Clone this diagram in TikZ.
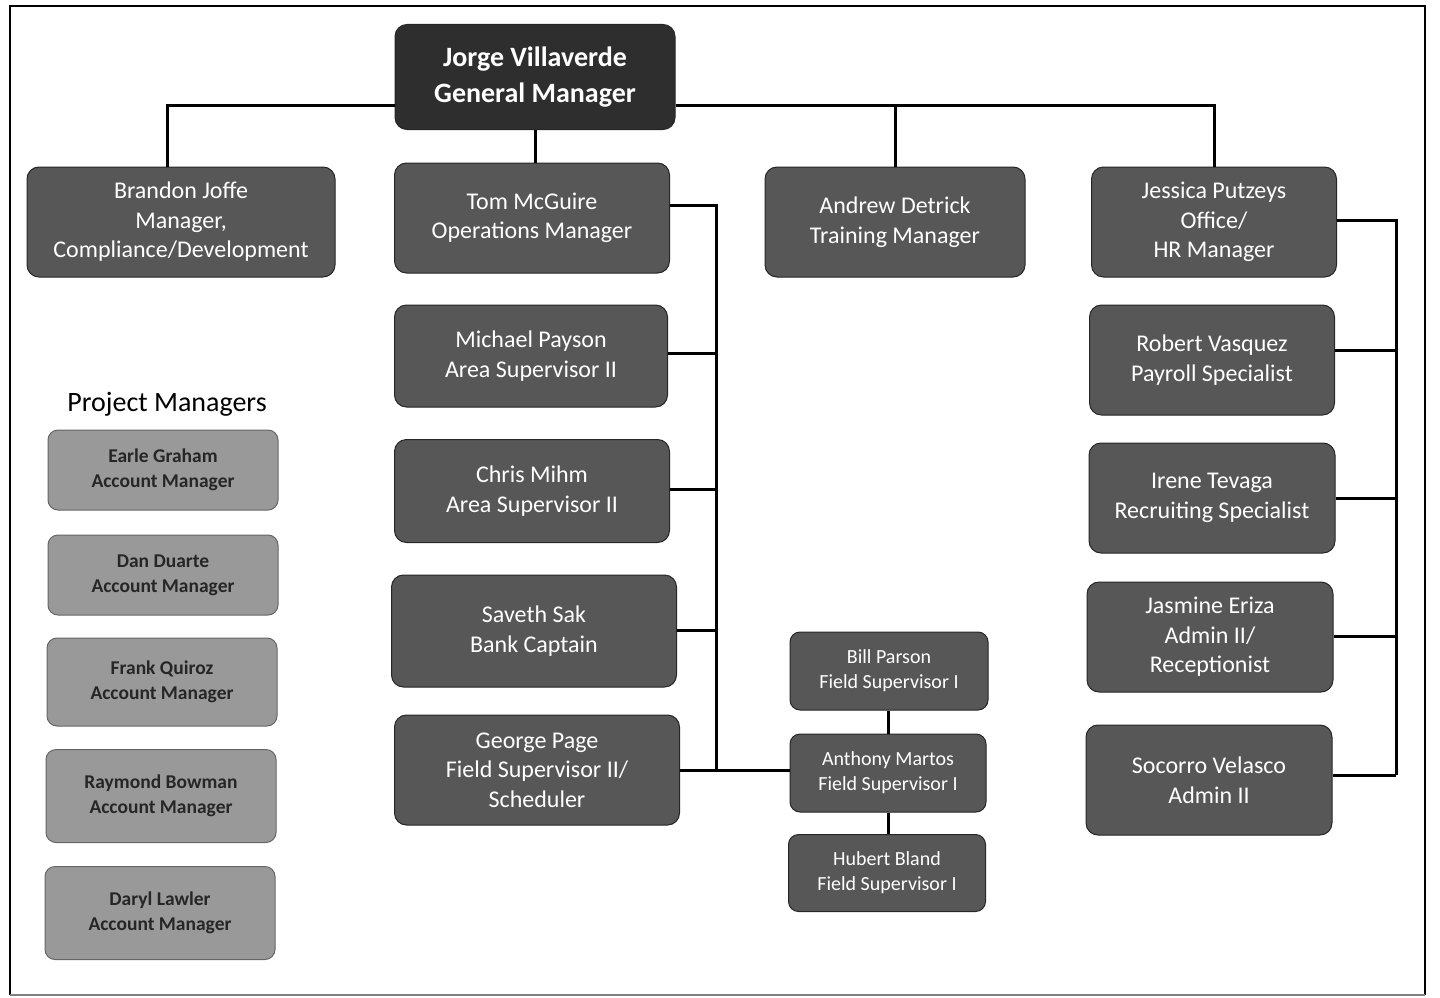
\documentclass[tikz,border=0pt]{standalone}
\usepackage{fontspec}
\setmainfont{Carlito}
\begin{document}
\begin{tikzpicture}[x=1pt,y=-1pt,
  box/.style={draw=black!85, line width=1pt, fill=black!66, rounded corners=12pt, text=white, align=center, inner sep=0pt},
  big/.style={box, font=\fontsize{24}{29.5}\selectfont},
  small/.style={box, font=\fontsize{20}{25}\selectfont, rounded corners=10pt},
  pm/.style={draw=black!60, line width=1pt, fill=black!40, rounded corners=10pt, text=black!85, align=center, inner sep=0pt, font=\bfseries\fontsize{19.5}{25}\selectfont},
  wire/.style={line width=3pt, black}]
\useasboundingbox (0,0) rectangle (1440,998);
\draw[line width=2.5pt] (10,995) -- (10,6) -- (1425,6) -- (1425,995);
\draw[line width=1.5pt, black!50] (10,995) -- (1425,995);

% top
\node[box, font=\bfseries\fontsize{28}{36}\selectfont, fill=black!82, minimum width=280pt, minimum height=105pt] (gm) at (535,77) {Jorge Villaverde\\General Manager};

\node[big, minimum width=308pt, minimum height=110pt] (bj) at (181,222) {Brandon Joffe\\Manager,\\Compliance/Development};
\node[big, minimum width=275pt, minimum height=110pt] (tm) at (532,218) {Tom McGuire\\Operations Manager};
\node[big, minimum width=260pt, minimum height=110pt] (ad) at (895,222) {Andrew Detrick\\Training Manager};
\node[big, minimum width=245pt, minimum height=110pt] (jp) at (1214,222) {Jessica Putzeys\\Office/\\HR Manager};

% operations column
\node[big, minimum width=273pt, minimum height=102pt] (mp) at (531,356) {Michael Payson\\Area Supervisor II};
\node[big, minimum width=275pt, minimum height=103pt] (cm) at (532,491) {Chris Mihm\\Area Supervisor II};
\node[big, minimum width=285pt, minimum height=112pt] (ss) at (534,631) {Saveth Sak\\Bank Captain};
\node[big, minimum width=285pt, minimum height=110pt] (gp) at (537,770) {George Page\\Field Supervisor II/\\Scheduler};

% field supervisors
\node[small, minimum width=198pt, minimum height=78pt] (bp) at (889,671) {Bill Parson\\Field Supervisor I};
\node[small, minimum width=196pt, minimum height=78pt] (am) at (888,773) {Anthony Martos\\Field Supervisor I};
\node[small, minimum width=197pt, minimum height=77pt] (hb) at (887,873) {Hubert Bland\\Field Supervisor I};

% HR column
\node[big, minimum width=245pt, minimum height=110pt] (rv) at (1212,360) {Robert Vasquez\\Payroll Specialist};
\node[big, minimum width=246pt, minimum height=110pt] (it) at (1212,498) {Irene Tevaga\\Recruiting Specialist};
\node[big, minimum width=246pt, minimum height=110pt] (je) at (1210,637) {Jasmine Eriza\\Admin II/\\Receptionist};
\node[big, minimum width=246pt, minimum height=110pt] (sv) at (1209,780) {Socorro Velasco\\Admin II};

% project managers
\node[font=\fontsize{28}{32}\selectfont] (pmt) at (167,404) {Project Managers};
\node[pm, minimum width=230pt, minimum height=80pt] (eg) at (163,470) {Earle Graham\\Account Manager};
\node[pm, minimum width=230pt, minimum height=80pt] (dd) at (163,575) {Dan Duarte\\Account Manager};
\node[pm, minimum width=230pt, minimum height=88pt] (fq) at (162,682) {Frank Quiroz\\Account Manager};
\node[pm, minimum width=230pt, minimum height=93pt] (rb) at (161,796) {Raymond Bowman\\Account Manager};
\node[pm, minimum width=230pt, minimum height=93pt] (dl) at (160,913) {Daryl Lawler\\Account Manager};

% connectors from GM
\coordinate (gl) at (167,105);
\coordinate (gr) at (1214,105);
\draw[wire] (gm.west |- gl) -- (gl) -- (gl |- bj.north);
\draw[wire] (gm.east |- gl) -- (gr) -- (jp.north);
\draw[wire] (ad.north) -- (ad.north |- gl);
\draw[wire] (gm.south) -- (gm.south |- tm.north);

% operations bus
\coordinate (ob) at (716,205);
\coordinate (oe) at (716,770);
\draw[wire] (tm.east |- ob) -- (ob) -- (oe);
\draw[wire] (mp.east |- 0,353) -- (716,353);
\draw[wire] (cm.east |- 0,489) -- (716,489);
\draw[wire] (ss.east |- 0,630) -- (716,630);
\draw[wire] (gp.east |- oe) -- (am.west |- oe);
\draw[wire] (am.north |- bp.south) -- (am.north);
\draw[wire] (am.south) -- (am.south |- hb.north);

% HR bus
\coordinate (hbt) at (1396,220);
\coordinate (hbe) at (1396,775);
\draw[wire] (jp.east |- hbt) -- (hbt) -- (hbe);
\draw[wire] (rv.east |- 0,350) -- (1396,350);
\draw[wire] (it.east |- 0,498) -- (1396,498);
\draw[wire] (je.east |- 0,636) -- (1396,636);
\draw[wire] (sv.east |- hbe) -- (hbe);
\end{tikzpicture}
\end{document}
